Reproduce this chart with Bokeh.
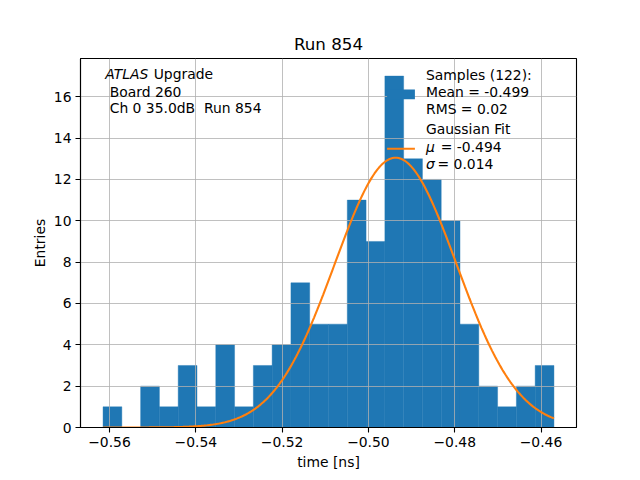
import numpy as np
from bokeh.plotting import figure
from bokeh.models import Range1d, FixedTicker, CustomJSTickFormatter, Label
from bokeh.embed import file_html
from bokeh.resources import INLINE

# ---- data ----
counts = [1, 0, 2, 1, 3, 1, 4, 1, 3, 4, 7, 5, 5, 11, 9, 17, 13, 12, 10, 5, 2, 1, 2, 3]
bin_lo = -0.5615
bin_hi = -0.4570
fit_mu = -0.4937
fit_sigma = 0.0141
fit_amp = 13.05
x_ticks = [-0.56, -0.54, -0.52, -0.50, -0.48, -0.46]
y_ticks = [0, 2, 4, 6, 8, 10, 12, 14, 16]
title_text = "Run 854"
x_label = "time [ns]"
y_label = "Entries"
info_lines = ["Board 260", "Ch 0 35.0dB\u00a0 Run 854"]
legend_hist = ["Samples (122):", "Mean = -0.499", "RMS = 0.02"]
legend_fit = ["Gaussian Fit", "= -0.494", "= 0.014"]

edges = np.linspace(bin_lo, bin_hi, len(counts) + 1)
span = bin_hi - bin_lo
xlo, xhi = bin_lo - 0.05 * span, bin_hi + 0.05 * span
ylo, yhi = 0, max(counts) * 1.05

FONT = "DejaVu Sans"
FS = "13.9px"
DY = -6  # empirical baseline correction

# reference-image pixel -> data helpers (frame: x 80..576, y 58..427)
def px2x(px):
    return xlo + (px - 80) / 496 * (xhi - xlo)

def py2y(py):
    return (427 - py) / 369 * (yhi - ylo)

p = figure(frame_width=496, frame_height=369,
           min_border_left=80, min_border_right=56,
           min_border_top=58, min_border_bottom=45,
           x_range=Range1d(xlo, xhi), y_range=Range1d(ylo, yhi),
           output_backend="svg", toolbar_location=None,
           background_fill_color="white", border_fill_color="white")

p.title.text = title_text
p.title.align = "center"
p.title.text_font = FONT
p.title.text_font_size = "16.7px"
p.title.text_font_style = "normal"
p.title.text_color = "black"
p.title.standoff = 10

p.outline_line_color = "black"
p.outline_line_width = 1.1

for ax in (p.xaxis[0], p.yaxis[0]):
    ax.axis_line_color = "black"
    ax.axis_line_width = 1.1
    ax.major_tick_line_width = 1.1
    ax.major_tick_out = 5
    ax.major_tick_in = 0
    ax.minor_tick_out = 0
    ax.minor_tick_in = 0
    ax.major_label_text_font = FONT
    ax.major_label_text_font_size = FS
    ax.major_label_text_color = "black"
    ax.major_label_standoff = 4
    ax.axis_label_text_font = FONT
    ax.axis_label_text_font_size = FS
    ax.axis_label_text_font_style = "normal"
    ax.axis_label_text_color = "black"
p.xaxis[0].axis_label_standoff = 4
p.yaxis[0].axis_label_standoff = 3

p.xaxis[0].ticker = FixedTicker(ticks=x_ticks)
p.yaxis[0].ticker = FixedTicker(ticks=y_ticks)
p.xaxis[0].formatter = CustomJSTickFormatter(code="return tick.toFixed(2).replace('-', '\u2212');")
p.xaxis[0].axis_label = x_label
p.yaxis[0].axis_label = y_label

p.grid.grid_line_color = "#b0b0b0"
p.grid.grid_line_width = 0.8

# histogram bars (below grid)
p.quad(left=edges[:-1], right=edges[1:], bottom=0, top=counts,
       fill_color="#1f77b4", line_color="#1f77b4", line_width=0.4, level="image")

# gaussian fit curve
xs = np.linspace(bin_lo, bin_hi, 300)
ys = fit_amp * np.exp(-0.5 * ((xs - fit_mu) / fit_sigma) ** 2)
p.line(xs, ys, line_color="#ff7f0e", line_width=2.1)

def lab(px, py, text, style="normal"):
    p.add_layout(Label(x=px2x(px), y=py2y(py + DY), text=text, text_font=FONT,
                       text_font_size=FS, text_font_style=style,
                       text_color="black", text_baseline="alphabetic",
                       text_align="left"))

# info text
lab(104.8, 79, "ATLAS", "italic")
lab(153.2, 79, "Upgrade")
lab(109.2, 97, info_lines[0])
lab(109.2, 113, info_lines[1])

# manual legend
p.quad(left=[px2x(386.6)], right=[px2x(414.4)], bottom=[py2y(98.7)], top=[py2y(89)],
       fill_color="#1f77b4", line_color=None)
p.line([px2x(386.6), px2x(414.4)], [py2y(148.3), py2y(148.3)],
       line_color="#ff7f0e", line_width=2.1)
lab(425.5, 80.8, legend_hist[0])
lab(425.5, 97.3, legend_hist[1])
lab(425.5, 114, legend_hist[2])
lab(425.5, 134.5, legend_fit[0])
lab(425.5, 152.3, "μ", "italic")
lab(440.3, 152.3, legend_fit[1])
lab(425.5, 169.8, "σ", "italic")
lab(437.0, 169.8, legend_fit[2])

open("out.html", "w").write(file_html(p, INLINE))
